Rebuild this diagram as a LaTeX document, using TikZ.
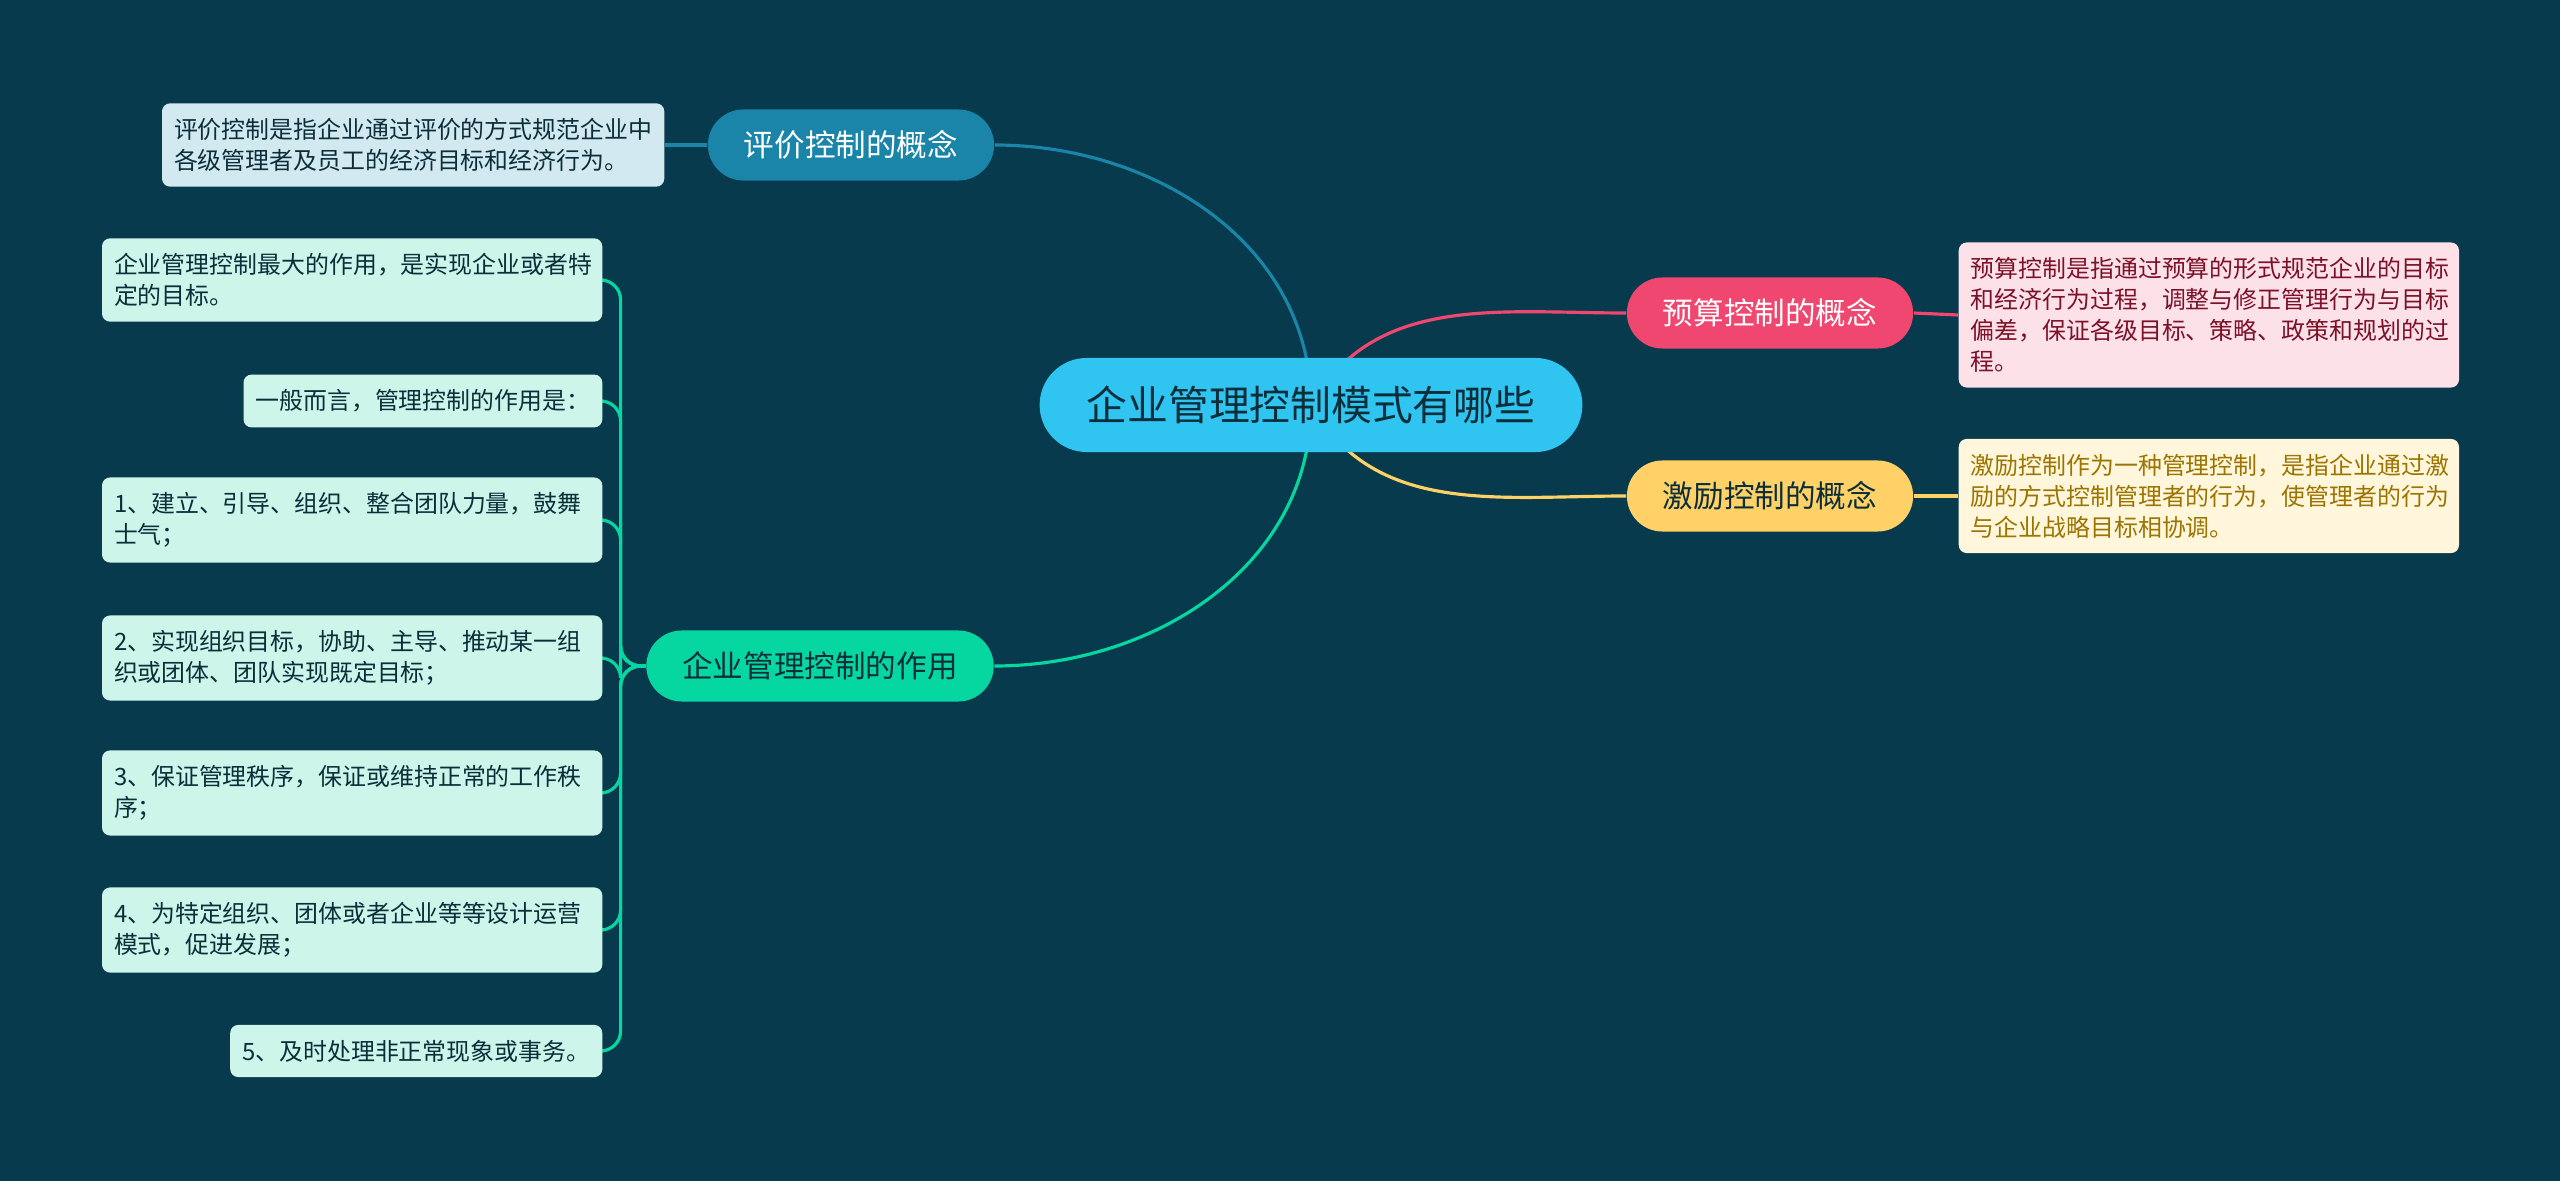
\documentclass[tikz,border=0pt]{standalone}
\usepackage{fontspec}
\setmainfont{Noto Sans CJK SC}
\pgfdeclarelayer{edges}
\pgfsetlayers{edges,main}
\definecolor{bgc}{HTML}{073A4D}
\definecolor{rootc}{HTML}{30C4F0}
\definecolor{darkt}{HTML}{0B2E3A}
\definecolor{pjc}{HTML}{1A85A8}
\definecolor{pjl}{HTML}{D3E9F0}
\definecolor{zyc}{HTML}{06D6A0}
\definecolor{zyl}{HTML}{CDF5EA}
\definecolor{ysc}{HTML}{EF476F}
\definecolor{ysl}{HTML}{FCE1E8}
\definecolor{yst}{HTML}{7D1129}
\definecolor{jlc}{HTML}{FFD166}
\definecolor{jll}{HTML}{FFF6DB}
\definecolor{jlt}{HTML}{9C7400}
\begin{document}
\begin{tikzpicture}[x=0.01cm,y=0.01cm,
  root/.style={fill=rootc,text=darkt,rounded corners=0.47cm,minimum height=0.94cm,inner xsep=0.47cm,font=\fontsize{11.6}{13}\selectfont},
  sub/.style={rounded corners=0.355cm,minimum height=0.71cm,inner xsep=0.36cm,font=\fontsize{8.7}{10}\selectfont},
  leaf/.style={rounded corners=0.08cm,align=left,inner xsep=0.12cm,inner ysep=0.15cm,font=\fontsize{6.8}{8.8}\selectfont},
  wide/.style={text width=4.76cm},
  con/.style={line width=0.9pt}]
\node[root] (root) at (1311,776) {企业管理控制模式有哪些};
\node[sub,fill=pjc,text=white] (pj) at (851,1036) {评价控制的概念};
\node[leaf,fill=pjl,text=darkt,anchor=east] (pjleaf) at (665,1036) {评价控制是指企业通过评价的方式规范企业中\\各级管理者及员工的经济目标和经济行为。};
\node[sub,fill=zyc,text=darkt] (zy) at (820,515) {企业管理控制的作用};
\node[leaf,wide,fill=zyl,text=darkt,anchor=east] (l1) at (603,901) {企业管理控制最大的作用，是实现企业或者特\\定的目标。};
\node[leaf,fill=zyl,text=darkt,anchor=east] (l2) at (603,780) {一般而言，管理控制的作用是：};
\node[leaf,wide,fill=zyl,text=darkt,anchor=east] (l3) at (603,661) {1、建立、引导、组织、整合团队力量，鼓舞\\士气；};
\node[leaf,wide,fill=zyl,text=darkt,anchor=east] (l4) at (603,523) {2、实现组织目标，协助、主导、推动某一组\\织或团体、团队实现既定目标；};
\node[leaf,wide,fill=zyl,text=darkt,anchor=east] (l5) at (603,388) {3、保证管理秩序，保证或维持正常的工作秩\\序；};
\node[leaf,wide,fill=zyl,text=darkt,anchor=east] (l6) at (603,251) {4、为特定组织、团体或者企业等等设计运营\\模式，促进发展；};
\node[leaf,fill=zyl,text=darkt,anchor=east] (l7) at (603,130) {5、及时处理非正常现象或事务。};
\node[sub,fill=ysc,text=white] (ys) at (1770,868) {预算控制的概念};
\node[leaf,wide,fill=ysl,text=yst,anchor=west] (ysleaf) at (1958,866) {预算控制是指通过预算的形式规范企业的目标\\和经济行为过程，调整与修正管理行为与目标\\偏差，保证各级目标、策略、政策和规划的过\\程。};
\node[sub,fill=jlc,text=darkt] (jl) at (1770,685) {激励控制的概念};
\node[leaf,wide,fill=jll,text=jlt,anchor=west] (jlleaf) at (1958,685) {激励控制作为一种管理控制，是指企业通过激\\励的方式控制管理者的行为，使管理者的行为\\与企业战略目标相协调。};
\begin{pgfonlayer}{edges}
\fill[bgc] (0,0) rectangle (2560,1181);
\draw[con,pjc] (root.center) to[out=90,in=0] (pj.east);
\draw[con,pjc] (pj.west) -- (pjleaf.east);
\draw[con,zyc] (root.center) to[out=-90,in=0] (zy.east);
\foreach \n in {1,...,7}
  \draw[con,zyc,rounded corners=0.2cm] (zy.west) -- ++(-25,0) |- (l\n.east);
\draw[con,ysc] (root.center) to[out=60,in=180] (ys.west);
\draw[con,ysc] (ys.east) -- (ysleaf.west);
\draw[con,jlc] (root.center) to[out=-60,in=180] (jl.west);
\draw[con,jlc] (jl.east) -- (jlleaf.west);
\end{pgfonlayer}
\end{tikzpicture}
\end{document}
